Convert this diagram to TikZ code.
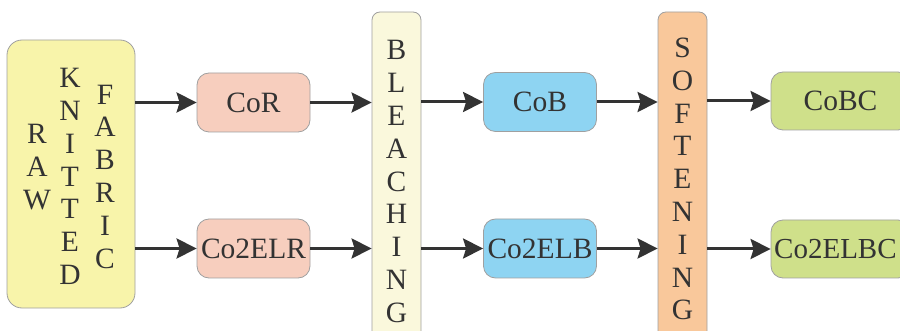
\documentclass[tikz,border=0pt]{standalone}
\usepackage{fontspec}
\setmainfont{Liberation Serif}
\usetikzlibrary{arrows.meta}

\definecolor{rawfill}{RGB}{248,244,170}
\definecolor{redfill}{RGB}{247,206,190}
\definecolor{bleachfill}{RGB}{250,248,220}
\definecolor{bluefill}{RGB}{142,212,242}
\definecolor{softfill}{RGB}{249,200,155}
\definecolor{greenfill}{RGB}{207,224,138}
\definecolor{edge}{RGB}{160,160,160}
\definecolor{ink}{RGB}{51,51,51}

\tikzset{
  stagebox/.style={draw=edge, line width=0.8pt, rounded corners=12pt,
    minimum width=113pt, minimum height=59pt, inner sep=0pt,
    text=ink, font=\fontsize{29.5}{32.8}\selectfont},
  barbox/.style={draw=edge, line width=0.8pt, rounded corners=8pt,
    minimum width=49pt, inner sep=0pt},
  vword/.style={text=ink, align=center, inner sep=0pt,
    font=\fontsize{29.5}{32.8}\selectfont},
  flow/.style={draw=ink, line width=3pt,
    -{Stealth[length=20pt,width=20pt,inset=3pt]}},
}

\begin{document}
\begin{tikzpicture}[x=1pt,y=-1pt]
\useasboundingbox (0,0) rectangle (900,331);
\clip (0,0) rectangle (900,331);

% raw fabric block
\node[draw=edge, line width=0.8pt, rounded corners=15pt, fill=rawfill,
      minimum width=128pt, minimum height=268pt, inner sep=0pt]
      (raw) at (71,174) {};
\node[vword] (wraw) at (37,167) {R\\A\\W};
\node[vword] (wknit) at (70,176.5) {K\\N\\I\\T\\T\\E\\D};
\node[vword] (wfab) at (105,176.5) {F\\A\\B\\R\\I\\C};

% first stage
\node[stagebox, fill=redfill] (cor) at (253.5,102.5) {CoR};
\node[stagebox, fill=redfill] (co2elr) at (253.5,248.5) {Co2ELR};

% bleaching bar
\node[barbox, fill=bleachfill, minimum height=340pt] (bleach) at (396.5,182) {};
\node[vword] (wbleach) at (396.5,181.5) {B\\L\\E\\A\\C\\H\\I\\N\\G};

% second stage
\node[stagebox, fill=bluefill] (cob) at (540,102) {CoB};
\node[stagebox, fill=bluefill] (co2elb) at (540,248.5) {Co2ELB};

% softening bar
\node[barbox, fill=softfill, minimum height=340pt] (soft) at (682.5,182) {};
\node[vword] (wsoft) at (682.5,179) {S\\O\\F\\T\\E\\N\\I\\N\\G};

% final stage
\node[stagebox, fill=greenfill, minimum width=139pt, minimum height=58pt] (cobc) at (840.5,101) {CoBC};
\node[stagebox, fill=greenfill, minimum width=139pt, minimum height=58pt] (co2elbc) at (840.5,249) {};
\node[text=ink, inner sep=0pt, anchor=west, font=\fontsize{29}{32.8}\selectfont]
     (lco2elbc) at (774,249) {Co2ELBC};

% process flow
\draw[flow] (raw.east |- cor.west) -- (cor.west);
\draw[flow] (raw.east |- co2elr.west) -- (co2elr.west);
\draw[flow] (cor.east) -- (cor.east -| bleach.west);
\draw[flow] (co2elr.east) -- (co2elr.east -| bleach.west);
\draw[flow] (bleach.east |- cob.west) -- (cob.west);
\draw[flow] (bleach.east |- co2elb.west) -- (co2elb.west);
\draw[flow] (cob.east) -- (cob.east -| soft.west);
\draw[flow] (co2elb.east) -- (co2elb.east -| soft.west);
\draw[flow] (soft.east |- cobc.west) -- (cobc.west);
\draw[flow] (soft.east |- co2elbc.west) -- (co2elbc.west);
\end{tikzpicture}
\end{document}
